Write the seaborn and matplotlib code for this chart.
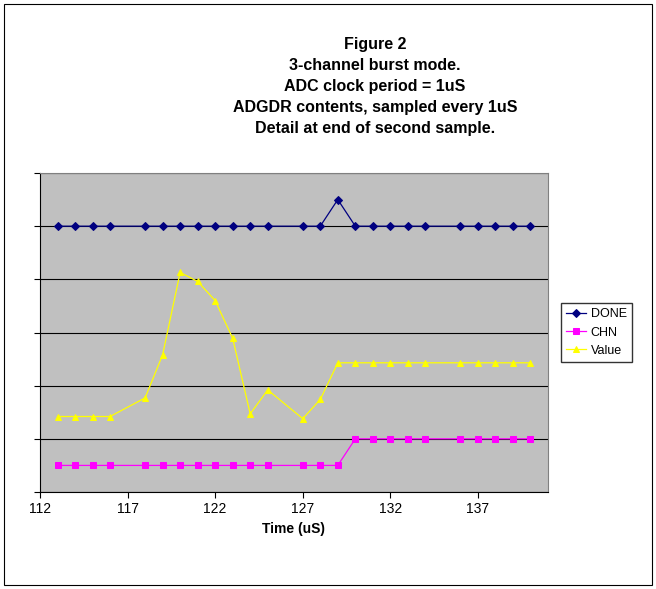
import matplotlib
matplotlib.use("Agg")
import matplotlib.pyplot as plt
import seaborn as sns
import pandas as pd

time_us = [113,114,115,116,118,119,120,121,122,123,124,125,127,128,129,130,131,132,133,134,136,137,138,139,140]
done = [5,5,5,5,5,5,5,5,5,5,5,5,5,5,5.5,5,5,5,5,5,5,5,5,5,5]
chn = [0.5]*15 + [1]*10
value = [1.42,1.42,1.42,1.42,1.77,2.58,4.13,3.96,3.6,2.89,1.47,1.92,1.38,1.74,2.43,2.43,2.43,2.43,2.43,2.43,2.43,2.43,2.43,2.43,2.43]
x_ticks = [112,117,122,127,132,137]

plt.rcParams["font.family"] = "Liberation Sans"
fig = plt.figure(figsize=(6.56,5.89), dpi=100)
fig.patch.set_facecolor("white")
fig.add_artist(plt.Rectangle((0.006,0.006),0.988,0.988, transform=fig.transFigure, fill=False, edgecolor="black", lw=0.8))
ax = fig.add_axes([40/656, 1-492/589, 508/656, 319/589])
ax.set_facecolor("#C0C0C0")
series = [("DONE", done, "#000080", "D", 4), ("CHN", chn, "#FF00FF", "s", 4), ("Value", value, "#FFFF00", "^", 5)]
for name, ys, c, m, ms in series:
    sns.lineplot(x=time_us, y=ys, ax=ax, color=c, marker=m, markersize=ms, markeredgecolor=c, lw=0.9, label=name)
ax.set_xlim(112, 141)
ax.set_ylim(0, 6)
ax.set_xticks(x_ticks)
ax.set_yticks(range(7))
ax.set_yticklabels([])
ax.yaxis.grid(True, color="black", lw=0.8)
ax.set_axisbelow(True)
ax.tick_params(axis="both", direction="out", length=4, labelsize=10)
for s in ["top","right"]:
    ax.spines[s].set_color("#808080")
ax.set_xlabel("Time (uS)", fontsize=10, fontweight="bold")
ax.set_ylabel("")
fig.text(375/656, 1-87/589, "Figure 2\n3-channel burst mode.\nADC clock period = 1uS\nADGDR contents, sampled every 1uS\nDetail at end of second sample.",
         ha="center", va="center", fontsize=11.5, fontweight="bold", linespacing=1.5)
leg = ax.legend(loc="center left", bbox_to_anchor=(1.025, 0.5), frameon=True, fancybox=False, edgecolor="black",
                fontsize=9, handlelength=1.6, handletextpad=0.4, borderpad=0.4, borderaxespad=0)
fig.savefig("out.png", dpi=100)
